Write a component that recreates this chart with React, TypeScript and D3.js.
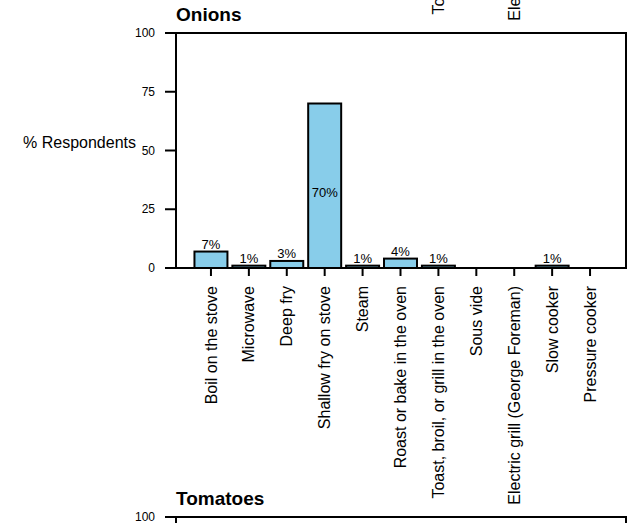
import { scaleBand, scaleLinear } from "d3";

const width = 640;
const height = 523;

const methods = [
  "Boil on the stove",
  "Microwave",
  "Deep fry",
  "Shallow fry on stove",
  "Steam",
  "Roast or bake in the oven",
  "Toast, broil, or grill in the oven",
  "Sous vide",
  "Electric grill (George Foreman)",
  "Slow cooker",
  "Pressure cooker",
];

const onionValues = [7, 1, 3, 70, 1, 4, 1, 0, 0, 1, 0];
const yTicks = [0, 25, 50, 75, 100];

// only the two longest labels of the panel above reach into view
const longLabels = ["Toast, broil, or grill in the oven", "Electric grill (George Foreman)"];

const frameLeft = 176;
const frameRight = 626;
const frameTop = 33;
const frameBottom = 268;
const panelPitch = 484;
const barFill = "#88cdea";
const font = "Liberation Sans, Arial, sans-serif";

const x = scaleBand<string>()
  .domain(methods)
  .range([192, 609])
  .paddingInner(0.13)
  .paddingOuter(0.065);

const y = scaleLinear().domain([0, 100]).range([frameBottom, frameTop]);

type PanelProps = {
  title?: string;
  values?: number[];
  offset: number;
  ticks?: number[];
  showFrame?: boolean;
  showYLabel?: boolean;
  categories?: string[];
  showCategoryTicks?: boolean;
};

const Panel = ({
  title,
  values,
  offset,
  ticks = [],
  showFrame,
  showYLabel,
  categories = [],
  showCategoryTicks,
}: PanelProps) => (
  <g transform={`translate(0, ${offset})`} fontFamily={font}>
    {title && (
      <text x={176} y={21} fontSize={19} fontWeight="bold">
        {title}
      </text>
    )}
    {showYLabel && (
      <text x={136} y={148} fontSize={16} textAnchor="end">
        % Respondents
      </text>
    )}
    {ticks.map((t) => (
      <g key={t}>
        <line x1={165} x2={frameLeft} y1={y(t)} y2={y(t)} stroke="#000" strokeWidth={2} />
        <text x={155} y={y(t)} dy="0.35em" fontSize={12} textAnchor="end">
          {t}
        </text>
      </g>
    ))}
    {values &&
      values.map((v, i) => {
        const m = methods[i];
        const bx = x(m)!;
        const inside = v > 50;
        return (
          <g key={m}>
            <rect
              x={bx}
              y={y(v)}
              width={x.bandwidth()}
              height={y(0) - y(v)}
              fill={barFill}
              stroke="#000"
              strokeWidth={2}
            />
            {v > 0 && (
              <text
                x={bx + x.bandwidth() / 2}
                y={inside ? (y(v) + y(0)) / 2 + 7 : y(v) - 3}
                dy={inside ? "0.35em" : 0}
                fontSize={13}
                textAnchor="middle"
              >
                {v}%
              </text>
            )}
          </g>
        );
      })}
    {showFrame && (
      <rect
        x={frameLeft}
        y={frameTop}
        width={frameRight - frameLeft}
        height={frameBottom - frameTop}
        fill="none"
        stroke="#000"
        strokeWidth={2}
      />
    )}
    {categories.map((m) => {
      const cx = x(m)! + x.bandwidth() / 2;
      return (
        <g key={m}>
          {showCategoryTicks && (
            <line x1={cx} x2={cx} y1={frameBottom} y2={frameBottom + 8} stroke="#000" strokeWidth={2} />
          )}
          <text
            transform={`translate(${cx}, 286) rotate(-90)`}
            dy="0.35em"
            fontSize={16}
            textAnchor="end"
          >
            {m}
          </text>
        </g>
      );
    })}
  </g>
);

const App = () => (
  <svg
    width={width}
    height={height}
    style={{ position: "fixed", left: 0, top: 0, background: "#fff" }}
  >
    <Panel offset={-panelPitch} categories={longLabels} />
    <Panel
      title="Onions"
      values={onionValues}
      offset={0}
      ticks={yTicks}
      showFrame
      showYLabel
      categories={methods}
      showCategoryTicks
    />
    <Panel title="Tomatoes" offset={panelPitch} ticks={[100]} showFrame />
  </svg>
);

export default App;
